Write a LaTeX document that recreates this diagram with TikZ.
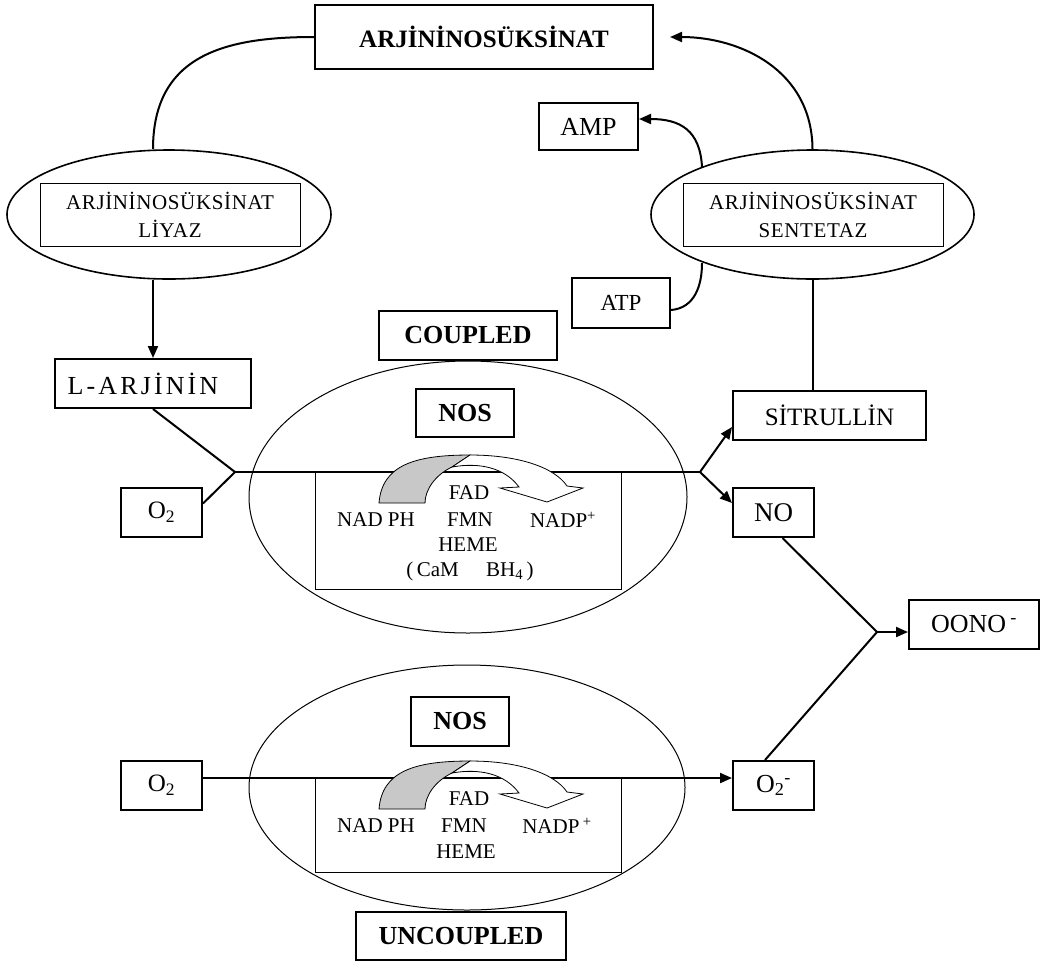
\documentclass[tikz,border=0pt]{standalone}
\usepackage{fontspec}
\setmainfont{Liberation Serif}
\usetikzlibrary{shapes.geometric,arrows.meta}
\definecolor{arrgray}{RGB}{200,200,200}
\newcommand{\fsz}[1]{\fontsize{#1}{#1}\selectfont}
\begin{document}
\begin{tikzpicture}[x=1pt,y=-1pt,
  box/.style={draw,line width=2pt,fill=white,inner sep=0pt,align=center},
  thinbox/.style={draw,line width=1pt,inner sep=0pt,align=center},
  ell/.style={draw,ellipse,inner sep=0pt},
  conn/.style={line width=2pt},
  tip/.style={-{Triangle[length=12pt,width=10pt]}},
  lbl/.style={inner sep=0pt,font=\fsz{21}},
  boldlbl/.style={font=\fsz{26}\bfseries},
  ]
\useasboundingbox (0,0) rectangle (1040,962);

% ---- top cycle ----
\node[box,minimum width=338pt,minimum height=64pt,font=\fsz{25}\bfseries] (top) at (484,37) {ARJİNİNOSÜKSİNAT};

\node[ell,line width=1.6pt,minimum width=324pt,minimum height=129pt] (lass) at (169,214.5) {};
\node[thinbox,minimum width=260pt,minimum height=63pt,font={\fontsize{21}{28}\selectfont\addfontfeature{LetterSpace=3}}] (lassin) at (170,214.5) {ARJİNİNOSÜKSİNAT\\LİYAZ};

\node[ell,line width=1.6pt,minimum width=323pt,minimum height=129pt] (sss) at (812.5,214.5) {};
\node[thinbox,minimum width=260pt,minimum height=63pt,font={\fontsize{21}{28}\selectfont\addfontfeature{LetterSpace=3}}] (sssin) at (813,214.5) {ARJİNİNOSÜKSİNAT\\SENTETAZ};

\node[box,minimum width=99pt,minimum height=47pt,font=\fsz{26}] (amp) at (588.5,126.5) {AMP};
\node[box,minimum width=98pt,minimum height=50pt,font=\fsz{23}] (atp) at (621,303) {ATP};

\node[box,minimum width=196pt,minimum height=49pt,font=\fsz{26}\addfontfeature{LetterSpace=12}] (larj) at (153,383.5) {L-ARJİNİN\hspace{20pt}};
\node[box,minimum width=193pt,minimum height=49pt,font=\fsz{25}] (sit) at (829.5,415.5) {SİTRULLİN};

\coordinate (topr) at ([xshift=16pt]top.east);
\draw[conn] (larj.north |- lass.north) .. controls (153,55) and (225,37) .. (top.west);
\draw[conn,tip] (sss.north) .. controls (812,70) and (740,37) .. (topr);
\coordinate (ampout) at (702,167);
\coordinate (atpin) at (702,263);
\draw[conn,tip] (ampout) .. controls (700,130) and (680,119) .. ([yshift=7.5pt]amp.east);
\draw[conn] ([yshift=-7pt]atp.east) .. controls (695,308) and (702,285) .. (atpin);
\draw[conn,tip] (larj.north |- lass.south) -- (larj.north);
\draw[conn] (sss.south) -- (sss.south |- sit.north);

% ---- coupled NOS ----
\node[ell,line width=1pt,minimum width=438pt,minimum height=272pt] (nosc) at (468,497) {};
\node[box,minimum width=178pt,minimum height=49pt,boldlbl] (coupled) at (468,335.5) {COUPLED};
\node[thinbox,line width=1.4pt,minimum width=98pt,minimum height=48pt,boldlbl] (nosbc) at (465,413) {NOS};
\node[thinbox,minimum width=306pt,minimum height=117pt] (inc) at (468,530.5) {};
\node[box,minimum width=81pt,minimum height=49pt,font=\fsz{25}] (o2c) at (161.5,512.5) {O\textsubscript{2}};
\node[box,minimum width=81pt,minimum height=49pt,font=\fsz{27}] (no) at (773.5,512.5) {NO};
\node[box,minimum width=130pt,minimum height=49pt,font=\fsz{26}] (oono) at (974,624.5) {OONO\,\textsuperscript{-}};

\coordinate (j1) at (235,472);
\coordinate (j2) at (700,472);
\coordinate (j3) at (877,632);
\draw[conn] (larj.south) -- (j1);
\draw[conn] ([yshift=9pt]o2c.east) -- (j1);
\draw[conn] (j1) -- (j2);
\draw[conn,tip] (j2) -- ([yshift=-11.5pt]sit.west);
\draw[conn,tip] (j2) -- ([yshift=9.5pt]no.west);

% ---- uncoupled NOS ----
\node[ell,line width=1pt,minimum width=436pt,minimum height=245pt] (nosu) at (467,787.5) {};
\node[thinbox,line width=1.4pt,fill=white,minimum width=98pt,minimum height=49pt,boldlbl] (nosbu) at (460,721.5) {NOS};
\node[thinbox,minimum width=306pt,minimum height=94pt] (inu) at (468,825) {};
\node[box,minimum width=210pt,minimum height=48pt,boldlbl] (uncoupled) at (461,936) {UNCOUPLED};
\node[box,minimum width=81pt,minimum height=49pt,font=\fsz{25}] (o2u) at (161.5,785.5) {O\textsubscript{2}};
\node[box,minimum width=81pt,minimum height=49pt,font=\fsz{26}] (o2m) at (773.5,785.5) {O\textsubscript{2}\textsuperscript{-}};

\draw[conn,tip] ([yshift=7.5pt]o2u.east) -- ([yshift=7.5pt]o2m.west);
\draw[conn] ([xshift=9pt]no.south) -- (j3);
\draw[conn] ([xshift=-8.5pt]o2m.north) -- (j3);
\draw[conn,tip] (j3) -- (j3 -| oono.west);

% ---- curved electron-flow arrows ----
\foreach \dy in {0,306} {
  \begin{scope}[shift={(0,\dy)}]
    \filldraw[fill=arrgray,line width=0.8pt] (379,503) .. controls (382,465) and (415,455) .. (470,455) -- (452,467) .. controls (435,475) and (425,490) .. (425,503) -- cycle;
    \filldraw[fill=white,line width=0.8pt] (470,455) .. controls (520,455) and (555,468) .. (567,486) -- (583,488) -- (547,502) -- (500,488) -- (519,487) .. controls (505,468) and (480,462) .. (452,467) -- cycle;
  \end{scope}
}

% ---- inner labels ----
\node[lbl] (fadc) at (469,493) {FAD};
\node[lbl] (nadphc) at (376,520) {NAD PH};
\node[lbl] (fmnc) at (470,520) {FMN};
\node[lbl] (nadpc) at (563,520) {NADP\textsuperscript{+}};
\node[lbl] (hemec) at (468,545) {HEME};
\node[lbl] (cofc) at (470,571) {(\,CaM\hspace{1.3em}BH\textsubscript{4}\,)};

\node[lbl] (fadu) at (469,799) {FAD};
\node[lbl] (nadphu) at (376,826) {NAD PH};
\node[lbl] (fmnu) at (464,826) {FMN};
\node[lbl] (nadpu) at (557,826) {NADP\,\textsuperscript{+}};
\node[lbl] (hemeu) at (466,852) {HEME};
\end{tikzpicture}
\end{document}
